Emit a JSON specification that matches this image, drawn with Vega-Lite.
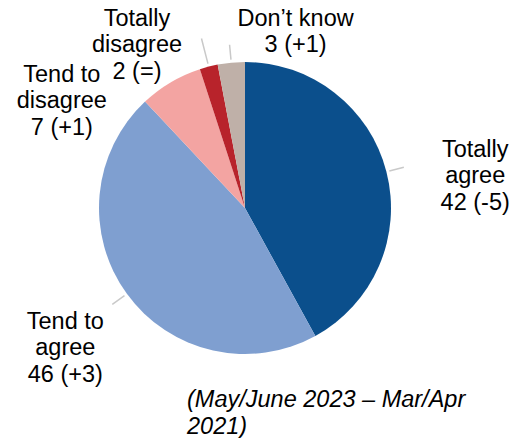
{
  "$schema": "https://vega.github.io/schema/vega-lite/v6.json",
  "width": 490,
  "height": 416,
  "autosize": "none",
  "padding": {"left": 0, "top": 0, "right": 29, "bottom": 22},
  "background": "white",
  "config": {"view": {"stroke": null}, "font": "Liberation Sans"},
  "title": {
    "text": ["(May/June 2023 – Mar/Apr", "2021)"],
    "orient": "bottom",
    "anchor": "start",
    "frame": "group",
    "dx": 187,
    "offset": -4,
    "baseline": "bottom",
    "font": "Liberation Sans",
    "fontSize": 23.5,
    "fontStyle": "italic",
    "fontWeight": "normal",
    "lineHeight": 26.5,
    "color": "#000000"
  },
  "data": {
    "values": [
      {"category": "Totally agree", "rank": 1, "value": 42, "label": "Totally\nagree\n42 (-5)"},
      {"category": "Tend to agree", "rank": 2, "value": 46, "label": "Tend to\nagree\n46 (+3)"},
      {"category": "Tend to disagree", "rank": 3, "value": 7, "label": "Tend to\ndisagree\n7 (+1)"},
      {"category": "Totally disagree", "rank": 4, "value": 2, "label": "Totally\ndisagree\n2 (=)"},
      {"category": "Don't know", "rank": 5, "value": 3, "label": "Don’t know\n3 (+1)"}
    ]
  },
  "transform": [
    {"stack": "value", "groupby": [], "sort": [{"field": "rank", "order": "ascending"}], "as": ["v0", "v1"]},
    {"calculate": "(datum.v0 + datum.v1) / 2", "as": "mid"}
  ],
  "layer": [
    {
      "mark": {"type": "arc", "outerRadius": 146},
      "encoding": {
        "theta": {"field": "v0", "type": "quantitative", "scale": {"domain": [0, 100]}},
        "theta2": {"field": "v1"},
        "color": {
          "field": "category",
          "type": "nominal",
          "scale": {
            "domain": ["Totally agree", "Tend to agree", "Tend to disagree", "Totally disagree", "Don't know"],
            "range": ["#0b4f8c", "#7f9fd0", "#f3a4a2", "#b8232b", "#bfb0a8"]
          },
          "legend": null
        }
      }
    },
    {
      "transform": [{"filter": "datum.rank == 1 || datum.rank == 2 || datum.rank == 5"}],
      "mark": {"type": "arc", "radius": 164, "radius2": 149, "fill": null, "stroke": "#c9c9c9", "strokeWidth": 1.5},
      "encoding": {
        "theta": {"field": "mid", "type": "quantitative"},
        "theta2": {"field": "mid"}
      }
    },
    {
      "transform": [{"filter": "datum.rank == 4"}],
      "mark": {"type": "arc", "radius": 175, "radius2": 149, "fill": null, "stroke": "#c9c9c9", "strokeWidth": 1.5},
      "encoding": {
        "theta": {"field": "mid", "type": "quantitative"},
        "theta2": {"field": "mid"}
      }
    },
    {
      "transform": [{"filter": "datum.rank == 1"}],
      "mark": {"type": "text", "radius": 185, "dx": 51, "dy": -12, "fontSize": 23.5, "lineHeight": 26.5, "align": "center", "baseline": "middle", "lineBreak": "\n", "color": "#000000"},
      "encoding": {"theta": {"field": "mid", "type": "quantitative"}, "text": {"field": "label"}}
    },
    {
      "transform": [{"filter": "datum.rank == 2"}],
      "mark": {"type": "text", "radius": 185, "dx": -30, "dy": 5, "fontSize": 23.5, "lineHeight": 26.5, "align": "center", "baseline": "middle", "lineBreak": "\n", "color": "#000000"},
      "encoding": {"theta": {"field": "mid", "type": "quantitative"}, "text": {"field": "label"}}
    },
    {
      "transform": [{"filter": "datum.rank == 3"}],
      "mark": {"type": "text", "radius": 185, "dx": -89, "dy": 26, "fontSize": 23.5, "lineHeight": 26.5, "align": "center", "baseline": "middle", "lineBreak": "\n", "color": "#000000"},
      "encoding": {"theta": {"field": "mid", "type": "quantitative"}, "text": {"field": "label"}}
    },
    {
      "transform": [{"filter": "datum.rank == 4"}],
      "mark": {"type": "text", "radius": 185, "dx": -62, "dy": -10, "fontSize": 23.5, "lineHeight": 26.5, "align": "center", "baseline": "middle", "lineBreak": "\n", "color": "#000000"},
      "encoding": {"theta": {"field": "mid", "type": "quantitative"}, "text": {"field": "label"}}
    },
    {
      "transform": [{"filter": "datum.rank == 5"}],
      "mark": {"type": "text", "radius": 185, "dx": 68, "dy": -5, "fontSize": 23.5, "lineHeight": 26.5, "align": "center", "baseline": "middle", "lineBreak": "\n", "color": "#000000"},
      "encoding": {"theta": {"field": "mid", "type": "quantitative"}, "text": {"field": "label"}}
    }
  ]
}
